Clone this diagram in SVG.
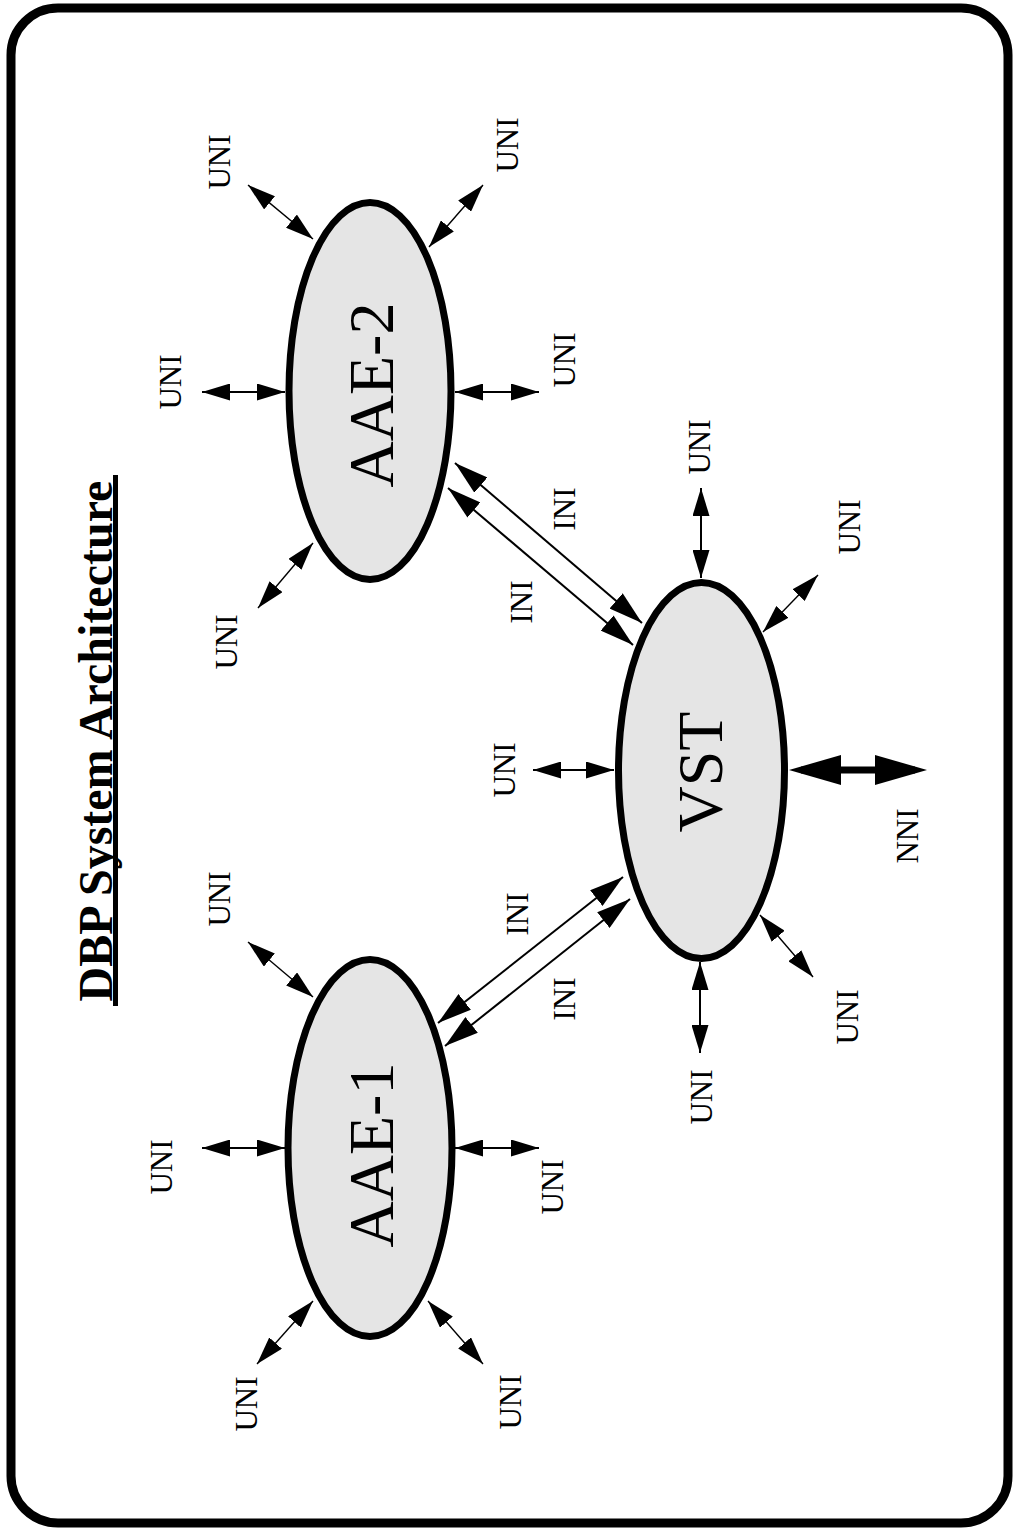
<svg xmlns="http://www.w3.org/2000/svg" width="1018" height="1531" viewBox="0 0 1018 1531">
  <style>
    .node { fill: #e5e5e5; stroke: #000; stroke-width: 7; }
    .big { font-family: "Liberation Serif", "Times New Roman", serif; font-size: 64px; text-anchor: middle; fill: #000; }
    .lbl { font-family: "Liberation Serif", "Times New Roman", serif; font-size: 31px; text-anchor: middle; fill: #000; }
    .title { font-family: "Liberation Serif", "Times New Roman", serif; font-size: 48px; font-weight: bold; text-anchor: middle; fill: #000; }
    .uni { stroke: #000; stroke-width: 2; fill: none; marker-start: url(#hu); marker-end: url(#hu); }
    .unid { stroke: #000; stroke-width: 1.4; fill: none; marker-start: url(#hu); marker-end: url(#hu); }
    .ini { stroke: #000; stroke-width: 2; fill: none; marker-start: url(#hi); marker-end: url(#hi); }
    .nni { stroke: #000; stroke-width: 7; fill: none; marker-start: url(#hn); marker-end: url(#hn); }
  </style>
  <defs>
    <marker id="hu" viewBox="0 0 28 17" markerWidth="28" markerHeight="17" refX="28" refY="8.5" markerUnits="userSpaceOnUse" orient="auto-start-reverse">
      <path d="M0,0 L28,8.5 L0,17 z" fill="#000"/>
    </marker>
    <marker id="hi" viewBox="0 0 34 20" markerWidth="34" markerHeight="20" refX="34" refY="10" markerUnits="userSpaceOnUse" orient="auto-start-reverse">
      <path d="M0,0 L34,10 L0,20 z" fill="#000"/>
    </marker>
    <marker id="hn" viewBox="0 0 52 30" markerWidth="52" markerHeight="30" refX="40" refY="15" markerUnits="userSpaceOnUse" orient="auto-start-reverse">
      <path d="M0,0 L52,15 L0,30 z" fill="#000"/>
    </marker>
  </defs>

  <rect id="frame" x="11" y="8" width="997" height="1515" rx="47" ry="47" fill="#fff" stroke="#000" stroke-width="9"/>

  <g id="title">
    <text class="title" transform="translate(112,741) rotate(-90)">DBP System Architecture</text>
    <line x1="115.5" y1="475" x2="115.5" y2="1006" stroke="#000" stroke-width="5"/>
  </g>

  <g id="connectors">
    <!-- AAE-2 UNI -->
    <line class="uni" x1="202" y1="392" x2="285" y2="392"/>
    <line class="uni" x1="455" y1="392" x2="539" y2="392"/>
    <line class="unid" x1="248" y1="185" x2="313" y2="239"/>
    <line class="unid" x1="483" y1="185" x2="429" y2="247"/>
    <line class="unid" x1="313" y1="543" x2="258" y2="608"/>
    <!-- AAE-1 UNI -->
    <line class="uni" x1="202" y1="1148" x2="285" y2="1148"/>
    <line class="uni" x1="455" y1="1148" x2="539" y2="1148"/>
    <line class="unid" x1="248" y1="942" x2="313" y2="997"/>
    <line class="unid" x1="313" y1="1301" x2="257" y2="1364"/>
    <line class="unid" x1="428" y1="1301" x2="483" y2="1364"/>
    <!-- VST UNI / NNI -->
    <line class="uni" x1="701" y1="488" x2="701" y2="578"/>
    <line class="unid" x1="818" y1="575" x2="763" y2="632"/>
    <line class="uni" x1="533" y1="770" x2="614" y2="770"/>
    <line class="nni" x1="801" y1="770" x2="915" y2="770"/>
    <line class="unid" x1="760" y1="915" x2="813" y2="977"/>
    <line class="uni" x1="700" y1="962" x2="700" y2="1053"/>
    <!-- INI AAE-2 <-> VST -->
    <line class="ini" x1="455" y1="463" x2="642" y2="623"/>
    <line class="ini" x1="448" y1="488" x2="633" y2="645"/>
    <!-- INI AAE-1 <-> VST -->
    <line class="ini" x1="438" y1="1023" x2="623" y2="877"/>
    <line class="ini" x1="445" y1="1046" x2="630" y2="899"/>
  </g>

  <g id="connector-labels">
    <text class="lbl" transform="translate(230,162) rotate(-90)">UNI</text>
    <text class="lbl" transform="translate(518,145) rotate(-90)">UNI</text>
    <text class="lbl" transform="translate(181,382) rotate(-90)">UNI</text>
    <text class="lbl" transform="translate(575,360) rotate(-90)">UNI</text>
    <text class="lbl" transform="translate(237,642) rotate(-90)">UNI</text>

    <text class="lbl" transform="translate(230,899) rotate(-90)">UNI</text>
    <text class="lbl" transform="translate(172,1167) rotate(-90)">UNI</text>
    <text class="lbl" transform="translate(563,1187) rotate(-90)">UNI</text>
    <text class="lbl" transform="translate(257,1404) rotate(-90)">UNI</text>
    <text class="lbl" transform="translate(521,1402) rotate(-90)">UNI</text>

    <text class="lbl" transform="translate(710,447) rotate(-90)">UNI</text>
    <text class="lbl" transform="translate(860,527) rotate(-90)">UNI</text>
    <text class="lbl" transform="translate(515,770) rotate(-90)">UNI</text>
    <text class="lbl" transform="translate(858,1017) rotate(-90)">UNI</text>
    <text class="lbl" transform="translate(712,1097) rotate(-90)">UNI</text>
    <text class="lbl" transform="translate(918,836) rotate(-90)">NNI</text>

    <text class="lbl" transform="translate(575,509) rotate(-90)">INI</text>
    <text class="lbl" transform="translate(532,602) rotate(-90)">INI</text>
    <text class="lbl" transform="translate(528,914) rotate(-90)">INI</text>
    <text class="lbl" transform="translate(575,999) rotate(-90)">INI</text>
  </g>

  <g id="aae2">
    <ellipse class="node" cx="370" cy="391" rx="81" ry="188.5"/>
    <text class="big" transform="translate(393,395) rotate(-90)">AAE-2</text>
  </g>
  <g id="aae1">
    <ellipse class="node" cx="370" cy="1148" rx="82" ry="188.5"/>
    <text class="big" transform="translate(393,1155) rotate(-90)">AAE-1</text>
  </g>
  <g id="vst">
    <ellipse class="node" cx="701.5" cy="770.5" rx="83" ry="188"/>
    <text class="big" transform="translate(722,772) rotate(-90)">VST</text>
  </g>
</svg>
